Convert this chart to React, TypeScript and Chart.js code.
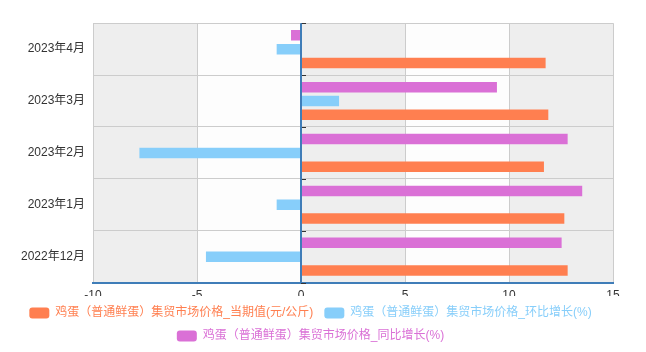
import React, { useEffect, useRef } from "react";
import { Chart, registerables } from "chart.js";

Chart.register(...registerables);

const categories = ["2023年4月", "2023年3月", "2023年2月", "2023年1月", "2022年12月"];
const currentValue = [11.76, 11.89, 11.68, 12.66, 12.82];
const momGrowth = [-1.17, 1.83, -7.77, -1.17, -4.57];
const yoyGrowth = [-0.48, 9.42, 12.82, 13.52, 12.53];
const seriesNames = [
  "鸡蛋（普通鲜蛋）集贸市场价格_当期值(元/公斤)",
  "鸡蛋（普通鲜蛋）集贸市场价格_环比增长(%)",
  "鸡蛋（普通鲜蛋）集贸市场价格_同比增长(%)",
];
const seriesColors = ["#ff7f50", "#87cefa", "#da70d6"];
const xMin = -10;
const xMax = 15;
const xStep = 5;

const FONT = "'Liberation Sans', 'Noto Sans CJK SC', sans-serif";
const AXIS_BLUE = "#3f7db8";

const bandsPlugin = {
  id: "bands",
  beforeDraw(chart: any) {
    const { ctx, chartArea, scales } = chart;
    const xs = scales.x;
    ctx.save();
    let i = 0;
    for (let v = xMin; v < xMax; v += xStep) {
      const a = xs.getPixelForValue(v);
      const b = xs.getPixelForValue(v + xStep);
      ctx.fillStyle = i % 2 === 0 ? "rgba(200,200,200,0.3)" : "rgba(250,250,250,0.3)";
      ctx.fillRect(a, chartArea.top, b - a, chartArea.bottom - chartArea.top);
      i++;
    }
    ctx.restore();
  },
  afterDatasetsDraw(chart: any) {
    const { ctx, chartArea, scales } = chart;
    const x0 = scales.x.getPixelForValue(0);
    const n = categories.length;
    const h = (chartArea.bottom - chartArea.top) / n;
    ctx.save();
    ctx.strokeStyle = "#333";
    ctx.lineWidth = 1;
    for (let i = 0; i <= n; i++) {
      const y = Math.round(chartArea.top + i * h) + 0.5;
      ctx.beginPath();
      ctx.moveTo(x0, y);
      ctx.lineTo(x0 + 5, y);
      ctx.stroke();
    }
    ctx.strokeStyle = AXIS_BLUE;
    ctx.lineWidth = 2;
    ctx.beginPath();
    ctx.moveTo(x0, chartArea.top);
    ctx.lineTo(x0, chartArea.bottom);
    ctx.stroke();
    ctx.restore();
  },
};

export default function App() {
  const ref = useRef<HTMLCanvasElement | null>(null);
  useEffect(() => {
    if (!ref.current) return;
    // dataset draw order top->bottom inside a category: yoy, mom, current
    const order = [2, 1, 0];
    const data = [currentValue, momGrowth, yoyGrowth];
    const chart = new Chart(ref.current, {
      type: "bar",
      data: {
        labels: categories,
        datasets: order.map((i) => ({
          label: seriesNames[i],
          data: data[i],
          backgroundColor: seriesColors[i],
          borderWidth: 0,
          categoryPercentage: 0.8,
          barPercentage: 0.76,
        })),
      },
      plugins: [bandsPlugin],
      options: {
        indexAxis: "y",
        animation: false,
        responsive: false,
        maintainAspectRatio: false,
        layout: { padding: { left: 0, right: 25, top: 13, bottom: 0 } },
        scales: {
          x: {
            min: xMin,
            max: xMax,
            ticks: {
              stepSize: xStep,
              color: "#333",
              font: { family: FONT, size: 12 },
              padding: 6,
            },
            grid: {
              color: "#cccccc",
              drawTicks: false,
            },
            border: { display: true, color: AXIS_BLUE, width: 2 },
            afterFit: (s: any) => {
              s.height = s.height - 13;
            },
          },
          y: {
            ticks: {
              color: "#333",
              font: { family: FONT, size: 12 },
              padding: 8,
            },
            grid: { color: "#cccccc", drawTicks: false, offset: true },
            border: { display: false },
            afterFit: (s: any) => {
              s.width = 85;
            },
          },
        },
        plugins: {
          tooltip: { enabled: false },
          legend: {
            position: "bottom",
            labels: {
              font: { family: FONT, size: 12 },
              boxWidth: 20,
              boxHeight: 11,
              padding: 11,
              useBorderRadius: true,
              borderRadius: 3,
              generateLabels: () =>
                [0, 1, 2].map((i) => ({
                  text: seriesNames[i],
                  fillStyle: seriesColors[i],
                  strokeStyle: seriesColors[i],
                  lineWidth: 0,
                  fontColor: seriesColors[i],
                  datasetIndex: order.indexOf(i),
                  borderRadius: 3,
                  hidden: false,
                })),
            },
          },
        },
      },
    } as any);
    return () => chart.destroy();
  }, []);
  return (
    <div style={{ width: 630, height: 344 }}>
      <canvas ref={ref} width={630} height={344} style={{ width: 630, height: 344 }} />
    </div>
  );
}
